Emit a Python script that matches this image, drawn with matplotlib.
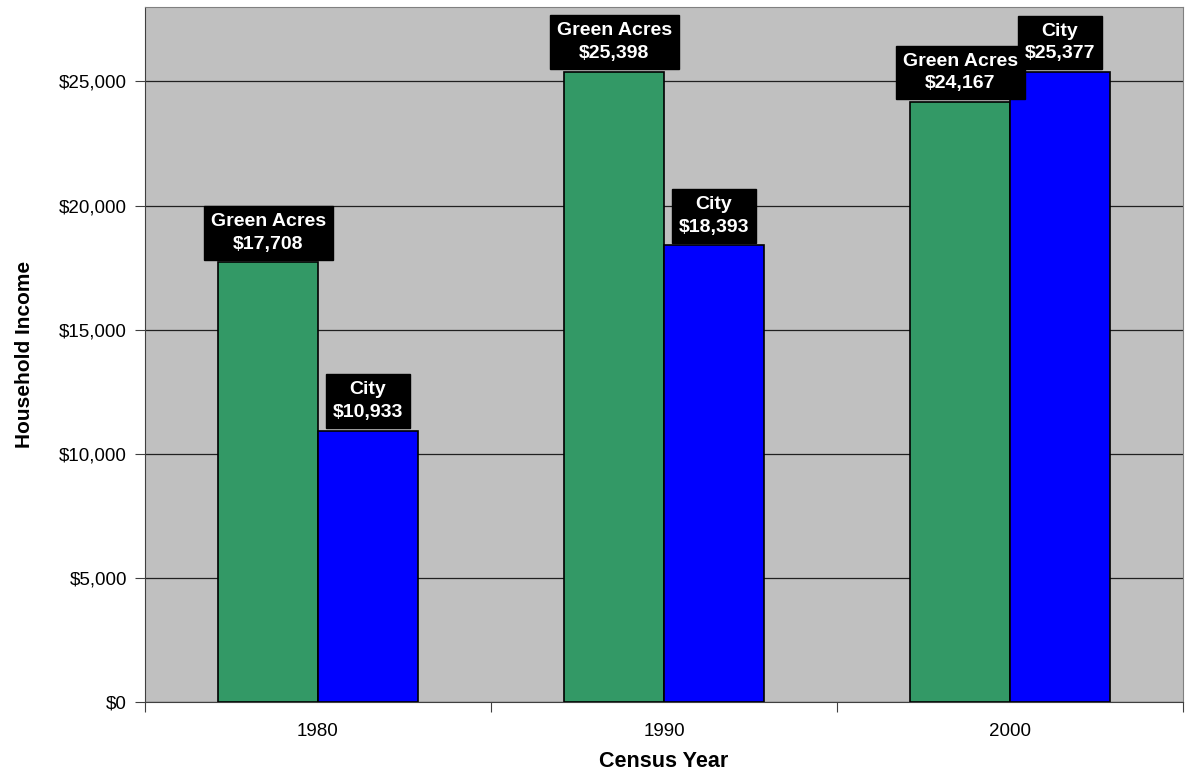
import matplotlib.pyplot as plt
from matplotlib.ticker import FuncFormatter
import numpy as np

plt.rcParams['font.family'] = ['Liberation Sans', 'DejaVu Sans']

years = ["1980", "1990", "2000"]
green_acres = [17708, 25398, 24167]
city = [10933, 18393, 25377]
series_names = ["Green Acres", "City"]

fig = plt.figure(figsize=(11.85, 7.81), dpi=100)
ax = fig.add_axes([145 / 1185, 1 - 702 / 781, 1038 / 1185, 695 / 781])
ax.set_facecolor("#C0C0C0")

x = np.arange(len(years))
w = 0.288
bars_g = ax.bar(x - w / 2, green_acres, w, color="#339966", edgecolor="black", linewidth=1.2, zorder=3)
bars_c = ax.bar(x + w / 2, city, w, color="#0000FF", edgecolor="black", linewidth=1.2, zorder=3)

for bars, name in [(bars_g, series_names[0]), (bars_c, series_names[1])]:
    for b in bars:
        h = b.get_height()
        ax.annotate("%s\n$%s" % (name, format(int(h), ",")),
                    (b.get_x() + b.get_width() / 2, h), xytext=(0, 7),
                    textcoords="offset points", ha="center", va="bottom",
                    color="white", fontsize=14, fontweight="bold", linespacing=1.45,
                    bbox=dict(boxstyle="square,pad=0.35", fc="black", ec="black"),
                    zorder=5, annotation_clip=False)

ax.set_xlim(-0.5, 2.5)
ax.set_ylim(0, 28000)
ax.set_yticks(range(0, 25001, 5000))
ax.yaxis.set_major_formatter(FuncFormatter(lambda v, p: "$" + format(int(v), ",")))
ax.set_xticks([-0.5, 0.5, 1.5, 2.5])
ax.set_xticklabels([])
ax.set_xticks(x, minor=True)
ax.set_xticklabels(years, minor=True)
ax.tick_params(axis="x", which="minor", length=0, pad=15, labelsize=13.5)
ax.tick_params(axis="x", which="major", length=7, color="#404040")
ax.tick_params(axis="y", length=7, labelsize=13.5, color="#404040", pad=6)
ax.grid(axis="y", color="#202020", linewidth=0.9, zorder=1)

for s in ["top", "right"]:
    ax.spines[s].set_color("#808080")
for s in ["left", "bottom"]:
    ax.spines[s].set_color("#404040")

ax.set_xlabel("Census Year", fontsize=15.5, fontweight="bold", labelpad=8)
ax.set_ylabel("Household Income", fontsize=15, fontweight="bold", labelpad=18)

fig.savefig("out.png", dpi=100)
